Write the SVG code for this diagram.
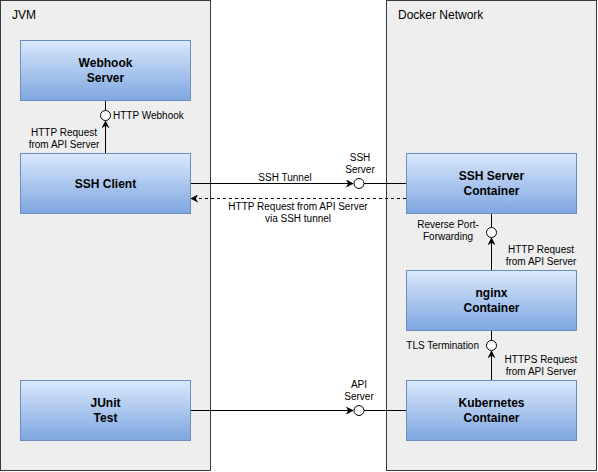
<svg xmlns="http://www.w3.org/2000/svg" width="598" height="472" viewBox="0 0 598 472">
<defs>
<linearGradient id="g" x1="0" y1="0" x2="0" y2="1">
<stop offset="0" stop-color="#dae8fc"/>
<stop offset="1" stop-color="#7ea6e0"/>
</linearGradient>
<marker id="arr" viewBox="0 0 10 10" refX="9" refY="5" markerWidth="8" markerHeight="8" markerUnits="userSpaceOnUse" orient="auto">
<path d="M0,0 L10,5 L0,10 L3,5 Z" fill="#000"/>
</marker>
</defs>
<style>
.grp{fill:#eeeeee;stroke:#36393d;stroke-width:1}
.node{fill:url(#g);stroke:#6c8ebf;stroke-width:1}
.nt{font-family:"Liberation Sans",Arial,sans-serif;font-size:12px;font-weight:bold;fill:#000;text-anchor:middle}
.gt{font-family:"Liberation Sans",Arial,sans-serif;font-size:12px;fill:#000}
.lb{font-family:"Liberation Sans",Arial,sans-serif;font-size:10px;fill:#000}
.c{text-anchor:middle}
.e{text-anchor:end}
.ln{stroke:#000;stroke-width:1;fill:none}
.dash{stroke-dasharray:3 3}
.port{fill:#fff;stroke:#000;stroke-width:1}
</style>
<g id="jvm">
<rect class="grp" x="0.5" y="0.5" width="210" height="470"/>
<text class="gt" x="12" y="19">JVM</text>
</g>
<g id="docker">
<rect class="grp" x="386.5" y="0.5" width="210" height="470"/>
<text class="gt" x="398" y="19">Docker Network</text>
</g>
<g id="connectors">
<path class="ln" d="M105.5,153 L105.5,121" marker-end="url(#arr)"/>
<path class="ln" d="M105.5,110 L105.5,100"/>
<path class="ln" d="M190,183.5 L353,183.5" marker-end="url(#arr)"/>
<path class="ln" d="M364,183.5 L406,183.5"/>
<path class="ln dash" d="M406,198.5 L191,198.5" marker-end="url(#arr)"/>
<path class="ln" d="M491.5,213 L491.5,227"/>
<path class="ln" d="M491.5,270 L491.5,238" marker-end="url(#arr)"/>
<path class="ln" d="M491.5,330 L491.5,340"/>
<path class="ln" d="M491.5,380 L491.5,351" marker-end="url(#arr)"/>
<path class="ln" d="M190,410.5 L353,410.5" marker-end="url(#arr)"/>
<path class="ln" d="M364,410.5 L406,410.5"/>
<circle class="port" cx="105.5" cy="115.5" r="5"/>
<circle class="port" cx="359" cy="183.5" r="5"/>
<circle class="port" cx="491.5" cy="232.5" r="5"/>
<circle class="port" cx="491.5" cy="345.5" r="5"/>
<circle class="port" cx="359" cy="410.5" r="5"/>
<text class="lb" x="113" y="119">HTTP Webhook</text>
<text class="lb c" x="64" y="136">HTTP Request</text>
<text class="lb c" x="64" y="148">from API Server</text>
<text class="lb c" x="285" y="181">SSH Tunnel</text>
<text class="lb c" x="360" y="161">SSH</text>
<text class="lb c" x="360" y="173">Server</text>
<text class="lb c" x="298" y="210">HTTP Request from API Server</text>
<text class="lb c" x="298" y="222">via SSH tunnel</text>
<text class="lb c" x="448" y="228">Reverse Port-</text>
<text class="lb c" x="448" y="240">Forwarding</text>
<text class="lb c" x="541" y="253">HTTP Request</text>
<text class="lb c" x="541" y="265">from API Server</text>
<text class="lb e" x="479" y="349">TLS Termination</text>
<text class="lb c" x="541" y="363">HTTPS Request</text>
<text class="lb c" x="541" y="375">from API Server</text>
<text class="lb c" x="359" y="388">API</text>
<text class="lb c" x="359" y="400">Server</text>
</g>
<g id="webhook">
<rect class="node" x="20.5" y="40.5" width="170" height="60"/>
<text class="nt" x="105.5" y="67">Webhook</text>
<text class="nt" x="105.5" y="82">Server</text>
</g>
<g id="sshclient">
<rect class="node" x="20.5" y="153.5" width="170" height="60"/>
<text class="nt" x="105.5" y="188">SSH Client</text>
</g>
<g id="junit">
<rect class="node" x="20.5" y="380.5" width="170" height="60"/>
<text class="nt" x="105.5" y="407">JUnit</text>
<text class="nt" x="105.5" y="422">Test</text>
</g>
<g id="sshserver">
<rect class="node" x="406.5" y="153.5" width="170" height="60"/>
<text class="nt" x="491.5" y="180">SSH Server</text>
<text class="nt" x="491.5" y="195">Container</text>
</g>
<g id="nginx">
<rect class="node" x="406.5" y="270.5" width="170" height="60"/>
<text class="nt" x="491.5" y="297">nginx</text>
<text class="nt" x="491.5" y="312">Container</text>
</g>
<g id="kubernetes">
<rect class="node" x="406.5" y="380.5" width="170" height="60"/>
<text class="nt" x="491.5" y="407">Kubernetes</text>
<text class="nt" x="491.5" y="422">Container</text>
</g>
</svg>
